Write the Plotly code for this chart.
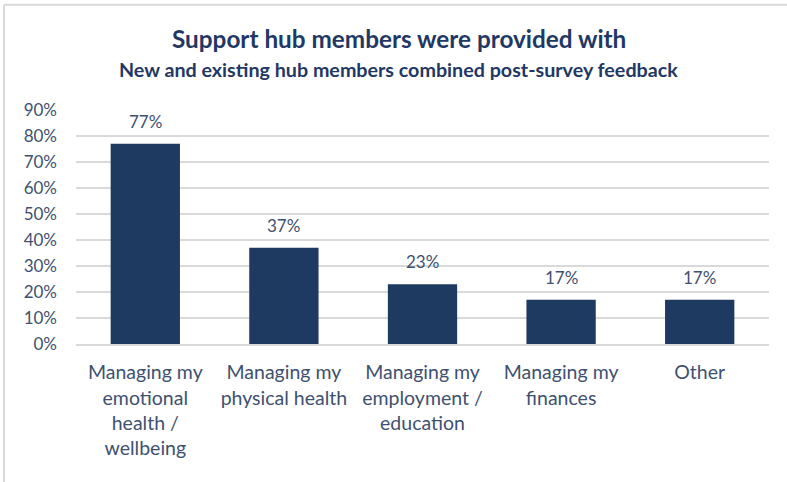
import plotly.graph_objects as go

# Survey responses: share of hub members provided with each kind of support
categories = [
    "Managing my<br>emotional<br>health /<br>wellbeing",
    "Managing my<br>physical health",
    "Managing my<br>employment /<br>education",
    "Managing my<br>finances",
    "Other",
]
shares = [0.77, 0.37, 0.23, 0.17, 0.17]
share_labels = ["77%", "37%", "23%", "17%", "17%"]

tick_values = [0, 0.1, 0.2, 0.3, 0.4, 0.5, 0.6, 0.7, 0.8, 0.9]
tick_labels = ["0%", "10%", "20%", "30%", "40%", "50%", "60%", "70%", "80%", "90%"]

title_text = "Support hub members were provided with"
subtitle_text = "New and existing hub members combined post-survey feedback"

FONT = "Lato"
NAVY = "#1F3A60"
TITLE_COLOR = "#1F3864"
TEXT_COLOR = "#3E5170"
GRID = "#D9D9D9"

fig = go.Figure(
    go.Bar(
        x=categories,
        y=shares,
        marker=dict(color=NAVY, line=dict(width=0)),
        width=0.5,
        hoverinfo="skip",
    )
)

# value labels sitting above each bar
value_annotations = [
    dict(
        x=c, y=v, text=t, xref="x", yref="y",
        xanchor="center", yanchor="bottom", yshift=10, showarrow=False,
        font=dict(family=FONT, size=17, color=TEXT_COLOR),
    )
    for c, v, t in zip(categories, shares, share_labels)
]

fig.update_layout(
    width=787,
    height=482,
    margin=dict(l=76, r=18, t=110, b=138),
    paper_bgcolor="white",
    plot_bgcolor="white",
    showlegend=False,
    font=dict(family=FONT, color=TEXT_COLOR),
    xaxis=dict(
        showline=True,
        linecolor=GRID,
        linewidth=2,
        ticks="",
        ticklabelstandoff=10,
        tickfont=dict(family=FONT, size=19.5, color=TEXT_COLOR),
        fixedrange=True,
    ),
    yaxis=dict(
        range=[0, 0.9],
        tickvals=tick_values,
        ticktext=tick_labels,
        showgrid=True,
        gridcolor=GRID,
        gridwidth=1.5,
        zeroline=False,
        ticks="",
        ticklabelstandoff=18,
        tickfont=dict(family=FONT, size=17, color=TEXT_COLOR),
        fixedrange=True,
    ),
    annotations=value_annotations + [
        dict(
            text="<b>" + title_text + "</b>",
            xref="paper", yref="paper", x=0.466, y=1.304,
            xanchor="center", yanchor="middle", showarrow=False,
            font=dict(family=FONT, size=24.3, color=TITLE_COLOR),
        ),
        dict(
            text="<b>" + subtitle_text + "</b>",
            xref="paper", yref="paper", x=0.466, y=1.173,
            xanchor="center", yanchor="middle", showarrow=False,
            font=dict(family=FONT, size=19.7, color=TITLE_COLOR),
        ),
    ],
    shapes=[
        # light frame along the top and left edges of the chart area
        dict(type="line", xref="paper", yref="paper",
             x0=-0.1039, x1=1.04, y0=1.45, y1=1.45,
             line=dict(color="#D9D9D9", width=2)),
        dict(type="line", xref="paper", yref="paper",
             x0=-0.1039, x1=-0.1039, y0=1.45, y1=-0.6,
             line=dict(color="#D9D9D9", width=2)),
    ],
)

fig.write_html("out.html")
